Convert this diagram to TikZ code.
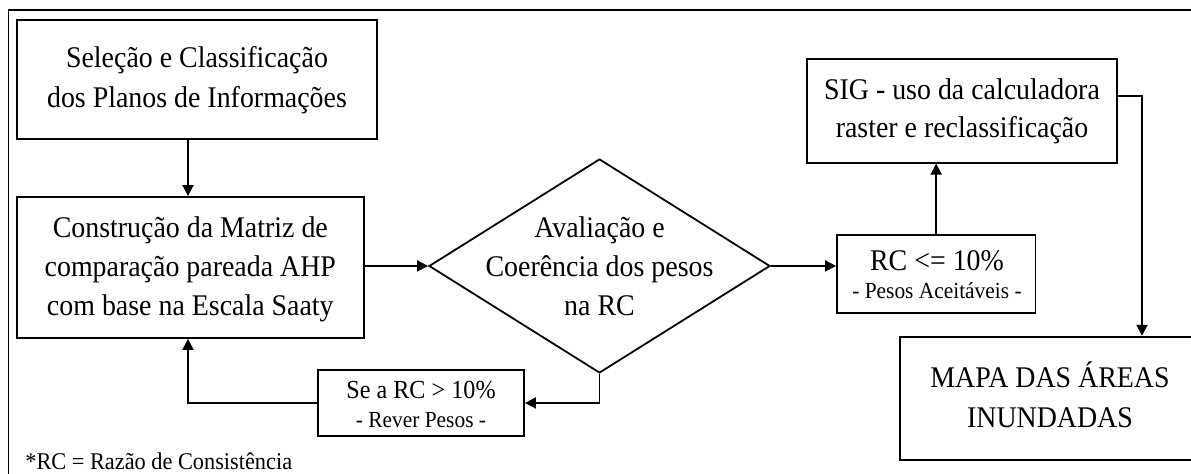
\documentclass[tikz,border=0pt]{standalone}
\usepackage{fontspec}
\setmainfont[FakeStretch=0.93]{Liberation Serif}
\usetikzlibrary{arrows.meta,shapes.geometric}
\begin{document}
\begin{tikzpicture}[x=0.5pt,y=-0.5pt,
  box/.style={draw, line width=0.9pt, rectangle, inner sep=0pt},
  txt/.style={align=center, inner sep=0pt, font=\fontsize{15}{19.5}\selectfont},
  arr/.style={line width=0.9pt, -{Triangle[length=5.5pt,width=5.5pt]}}]
\useasboundingbox (0,0) rectangle (1191,474);
\fill[white] (0,0) rectangle (1191,474);
\clip (0,0) rectangle (1191,474);
% outer frame (runs off the right and bottom edges)
\node[box, anchor=north west, minimum width=611pt, minimum height=255pt] (frame) at (7.7,9.3) {};
% boxes
\node[box, minimum width=180pt, minimum height=59.5pt] (b1) at (197,79.5) {};
\node[box, minimum width=173.3pt, minimum height=70.5pt] (b2) at (190.3,267.5) {};
\node[draw, diamond, line width=0.9pt, minimum width=170.5pt, minimum height=107pt, inner sep=0pt] (d) at (599.5,266) {};
\node[box, minimum width=103.2pt, minimum height=33pt] (se) at (420.8,403) {};
\node[box, minimum width=99.2pt, minimum height=39pt] (rc) at (936.2,274) {};
\node[box, minimum width=155.2pt, minimum height=51.7pt] (sig) at (961.8,111) {};
\node[box, minimum width=150.15pt, minimum height=61.65pt] (mapa) at (1049.85,398.35) {};
% texts
\node[txt, font=\fontsize{15}{20}\selectfont] (t1) at (197,80.5) {Seleção e Classificação\\dos Planos de Informações};
\node[txt] (t2) at (190.3,269) {Construção da Matriz de\\comparação pareada AHP\\com base na Escala Saaty};
\node[txt] (td) at (599.5,266) {Avaliação e\\Coerência dos pesos\\na RC};
\node[txt, font=\fontsize{15}{19}\selectfont] (tsig) at (962,111) {SIG - uso da calculadora\\raster e reclassificação};
\node[txt, font=\fontsize{15}{20}\selectfont] (tmapa) at (1050,394.7) {MAPA DAS ÁREAS\\INUNDADAS};
\node[txt, font=\fontsize{13}{14.15}\selectfont] (tse) at (421,404.4) {Se a RC > 10\%\\{\fontsize{11.5}{14}\selectfont - Rever Pesos -}};
\node[txt, font=\fontsize{15}{14.15}\selectfont] (trc) at (937,274.7) {RC <= 10\%\\{\fontsize{11.5}{14}\selectfont - Pesos Aceitáveis -}};
\node[anchor=base west, inner sep=0pt, font=\fontsize{12}{14}\selectfont] (fn) at (25,469.5) {*RC = Razão de Consistência};
% connectors
\coordinate (cx) at (188,0);
\coordinate (cm) at (1142,95.7);
\draw[arr] (b1.south -| cx) -- (b2.north -| cx);
\draw[arr] (b2.east |- d.west) -- (d.west);
\draw[arr] (d.east) -- (rc.west |- d.east);
\draw[arr] (rc.north) -- (sig.south -| rc.north);
\draw[arr] (sig.east |- cm) -- (cm) -- (mapa.north -| cm);
\draw[arr] (d.south) |- (se.east);
\draw[arr] (se.west) -| (b2.south -| cx);
\end{tikzpicture}
\end{document}
